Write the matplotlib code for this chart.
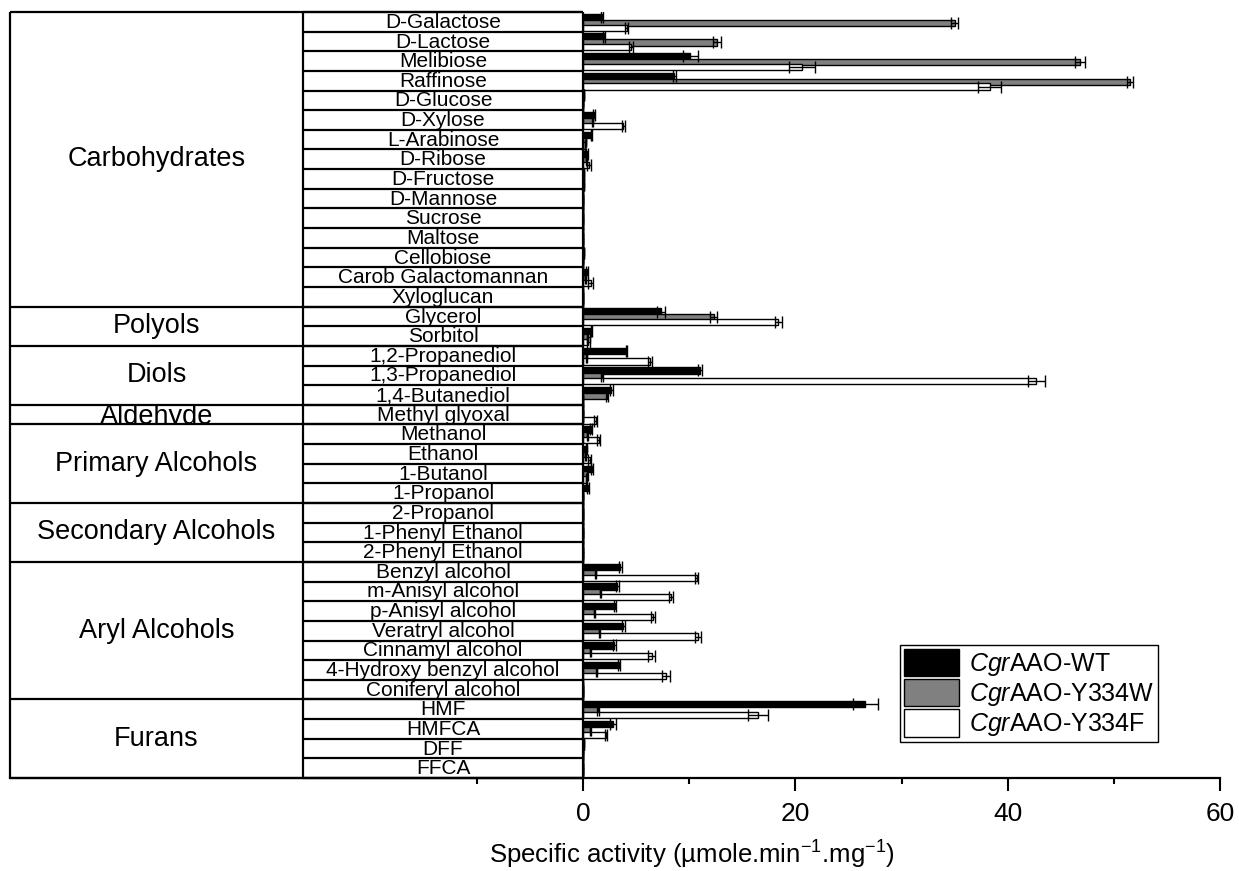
import numpy as np
import matplotlib
matplotlib.use("Agg")
import matplotlib.pyplot as plt
from matplotlib.transforms import Bbox, TransformedBbox

plt.rcParams['font.family'] = 'Liberation Sans'
plt.rcParams['mathtext.fontset'] = 'custom'
plt.rcParams['mathtext.rm'] = 'Liberation Sans'
plt.rcParams['mathtext.it'] = 'Liberation Sans:italic'

# substrate groups
group_names = ["Carbohydrates", "Polyols", "Diols", "Aldehyde", "Primary Alcohols",
               "Secondary Alcohols", "Aryl Alcohols", "Furans"]
group_sizes = [15, 2, 3, 1, 4, 3, 7, 4]

substrates = ["D-Galactose", "D-Lactose", "Melibiose", "Raffinose", "D-Glucose", "D-Xylose",
              "L-Arabinose", "D-Ribose", "D-Fructose", "D-Mannose", "Sucrose", "Maltose",
              "Cellobiose", "Carob Galactomannan", "Xyloglucan",
              "Glycerol", "Sorbitol",
              "1,2-Propanediol", "1,3-Propanediol", "1,4-Butanediol",
              "Methyl glyoxal",
              "Methanol", "Ethanol", "1-Butanol", "1-Propanol",
              "2-Propanol", "1-Phenyl Ethanol", "2-Phenyl Ethanol",
              "Benzyl alcohol", "m-Anisyl alcohol", "p-Anisyl alcohol", "Veratryl alcohol",
              "Cinnamyl alcohol", "4-Hydroxy benzyl alcohol", "Coniferyl alcohol",
              "HMF", "HMFCA", "DFF", "FFCA"]

# specific activity (umole/min/mg)
wt = [1.8, 2.0, 10.1, 8.6, 0.1, 1.0, 0.75, 0.35, 0.1, 0, 0, 0, 0.1, 0.4, 0,
      7.35, 0.75,
      4.05, 11.0, 2.64,
      0,
      0.75, 0.35, 0.82, 0.45,
      0, 0, 0,
      3.5, 3.2, 3.0, 3.8, 2.95, 3.35, 0,
      26.6, 2.8, 0.1, 0]
wt_err = [0.1, 0.1, 0.7, 0.15, 0, 0.1, 0.05, 0.1, 0, 0, 0, 0, 0, 0.1, 0,
          0.35, 0.05,
          0.05, 0.15, 0.15,
          0,
          0.1, 0.05, 0.1, 0.1,
          0, 0, 0,
          0.15, 0.15, 0.1, 0.1, 0.1, 0.1, 0,
          1.2, 0.3, 0, 0]
y334w = [35.0, 12.6, 46.8, 51.5, 0, 0.9, 0.3, 0.3, 0, 0, 0, 0, 0, 0.2, 0,
         12.3, 0.5,
         0.35, 1.8, 2.23,
         0,
         0.4, 0.2, 0.4, 0,
         0, 0, 0,
         1.2, 1.6, 1.05, 1.5, 0.65, 1.3, 0,
         1.4, 0.65, 0, 0]
y334w_err = [0.3, 0.35, 0.5, 0.3, 0, 0.05, 0, 0.05, 0, 0, 0, 0, 0, 0.05, 0,
             0.35, 0.1,
             0.05, 0.1, 0.1,
             0,
             0.05, 0.05, 0.05, 0,
             0, 0, 0,
             0.05, 0.05, 0.05, 0.05, 0.05, 0.05, 0,
             0.05, 0.05, 0, 0]
y334f = [4.1, 4.5, 20.6, 38.3, 0, 3.8, 0.2, 0.55, 0.05, 0, 0, 0, 0, 0.7, 0,
         18.4, 0.5,
         6.3, 42.7, 0,
         1.2,
         1.45, 0.6, 0.3, 0,
         0, 0, 0,
         10.7, 8.3, 6.55, 10.8, 6.45, 7.8, 0,
         16.5, 2.15, 0, 0]
y334f_err = [0.15, 0.15, 1.2, 1.1, 0, 0.15, 0, 0.15, 0, 0, 0, 0, 0, 0.2, 0,
             0.3, 0.1,
             0.2, 0.8, 0,
             0.15,
             0.15, 0.1, 0.05, 0,
             0, 0, 0,
             0.15, 0.2, 0.2, 0.3, 0.3, 0.35, 0,
             0.95, 0.1, 0, 0]

series_labels = ["$\\it{Cgr}$AAO-WT", "$\\it{Cgr}$AAO-Y334W", "$\\it{Cgr}$AAO-Y334F"]

fig = plt.figure(figsize=(12.39, 8.71), dpi=100)
ax = fig.add_axes([10/1239, 1-778/871, 1210/1239, 766/871])

n = len(substrates)
y = np.arange(n)
h = 0.32
ekw = dict(ecolor='black', elinewidth=1, capsize=4, capthick=1)
b1 = ax.barh(y-0.25, wt, height=h, color='black', edgecolor='black', lw=1,
             xerr=wt_err, error_kw=ekw, label=series_labels[0])
b2 = ax.barh(y+0.05, y334w, height=h, color='#808080', edgecolor='black', lw=1,
             xerr=y334w_err, error_kw=ekw, label=series_labels[1])
b3 = ax.barh(y+0.3, y334f, height=h, color='white', edgecolor='black', lw=1,
             xerr=y334f_err, error_kw=ekw, label=series_labels[2])

x_left, x_mid = -54, -26.4
ax.set_xlim(x_left, 60)
ax.set_ylim(n-0.5, -0.5)

# table on the left
lw = 1.6
ax.vlines([x_left, x_mid, 0], -0.5, n-0.5, color='black', lw=lw, clip_on=False, zorder=5)
ax.hlines(np.arange(n+1)-0.5, x_mid, 0, color='black', lw=lw, clip_on=False, zorder=5)
bounds = np.concatenate([[0], np.cumsum(group_sizes)]) - 0.5
ax.hlines(bounds, x_left, 0, color='black', lw=lw, clip_on=False, zorder=5)

for i, s in enumerate(substrates):
    ax.text((x_mid)/2, i + 0.03, s, ha='center', va='center', fontsize=15)

for g, lo, hi in zip(group_names, bounds[:-1], bounds[1:]):
    if g == "Aldehyde":
        t = ax.text((x_left+x_mid)/2, hi-0.03, g, ha='center', va='baseline', fontsize=19.5)
        t.set_clip_box(TransformedBbox(Bbox([[x_left, lo], [x_mid, hi]]), ax.transData))
        t.set_clip_on(True)
    else:
        ax.text((x_left+x_mid)/2, (lo+hi)/2, g, ha='center', va='center', fontsize=19.5)

ax.set_yticks([])
for sp in ['left', 'top', 'right']:
    ax.spines[sp].set_visible(False)
ax.spines['bottom'].set_linewidth(lw)
ax.set_xticks([0, 20, 40, 60])
ax.set_xticks([-10, 10, 30, 50], minor=True)
ax.tick_params(axis='x', which='major', direction='out', length=9, width=1.5, labelsize=19, pad=8)
ax.tick_params(axis='x', which='minor', direction='out', length=4.5, width=1.5)

ax.set_xlabel("Specific activity (µmole.min$^{-1}$.mg$^{-1}$)", fontsize=18.5)
ax.xaxis.label.set_va('center')
ax.xaxis.set_label_coords(0.5636, -0.1)

leg = fig.legend(handles=[b1, b2, b3], loc='upper left',
                 bbox_to_anchor=(900/1239, 1-645/871), fontsize=18, frameon=True,
                 fancybox=False, edgecolor='black', framealpha=1, handlelength=2.2,
                 handleheight=1.3, labelspacing=0.05, borderpad=0.15,
                 handletextpad=0.4, borderaxespad=0)
leg.get_frame().set_linewidth(1)

fig.savefig('out.png', dpi=100)
